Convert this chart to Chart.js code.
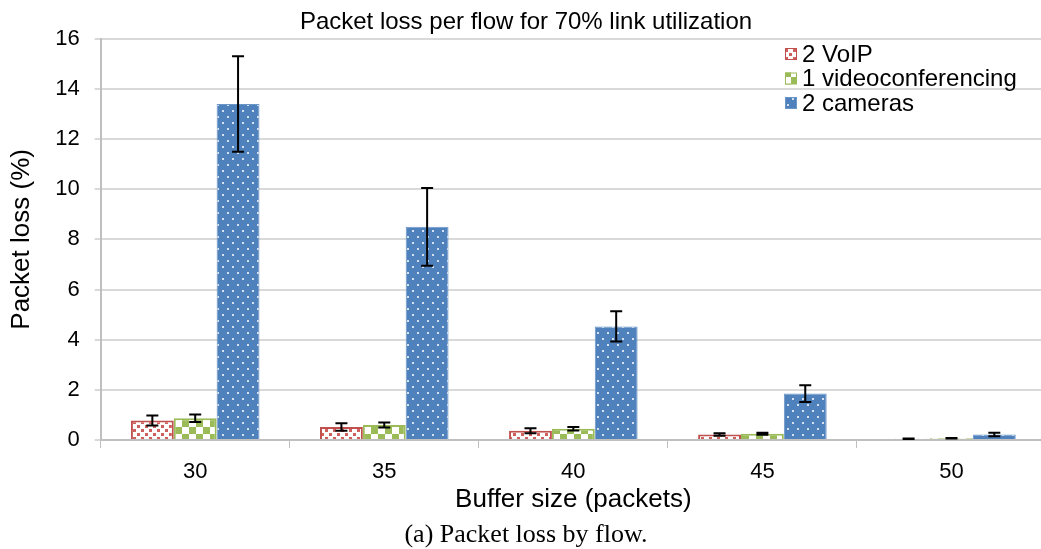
<!DOCTYPE html>
<html>
<head>
<meta charset="utf-8">
<script src="https://cdn.jsdelivr.net/npm/chart.js@4.4.0/dist/chart.umd.min.js"></script>
<style>
  html, body { margin: 0; padding: 0; background: #fff; overflow: hidden; }
  #wrap { width: 1041px; height: 549px; overflow: hidden; }
</style>
</head>
<body>
<div id="wrap"><canvas id="chart" width="1046" height="549"></canvas></div>
<script>
// data
const bufferSizes = ['30', '35', '40', '45', '50'];
const voip = [0.78, 0.52, 0.37, 0.22, 0.05];
const voipErr = [0.2, 0.15, 0.1, 0.05, 0.01];
const video = [0.87, 0.6, 0.45, 0.25, 0.07];
const videoErr = [0.15, 0.1, 0.07, 0.04, 0.01];
const cameras = [13.4, 8.5, 4.53, 1.85, 0.22];
const camerasErr = [1.9, 1.55, 0.6, 0.33, 0.07];

const RED = '#c0504d', GREEN = '#9bbb59', BLUE = '#4f81bd';
const SANS = 'Arial, "Liberation Sans", sans-serif';

// fill patterns like the office chart
function makePattern(kind) {
  const c = document.createElement('canvas');
  const ctx = c.getContext('2d');
  if (kind === 'dots') {
    c.width = 8; c.height = 8;
    ctx.fillStyle = '#fff'; ctx.fillRect(0, 0, 8, 8);
    ctx.fillStyle = '#d0605d';
    ctx.fillRect(1, 1, 3, 3);
    ctx.fillRect(5, 5, 3, 3);
  } else if (kind === 'check') {
    c.width = 14; c.height = 14;
    ctx.fillStyle = '#fff'; ctx.fillRect(0, 0, 14, 14);
    ctx.fillStyle = GREEN;
    ctx.fillRect(0, 0, 7, 7);
    ctx.fillRect(7, 7, 7, 7);
  } else {
    c.width = 10; c.height = 12;
    ctx.fillStyle = BLUE; ctx.fillRect(0, 0, 10, 12);
    ctx.fillStyle = '#d3e0f0';
    ctx.fillRect(2, 2, 2, 2);
    ctx.fillRect(7, 8, 2, 2);
  }
  return ctx.createPattern(c, 'repeat');
}

const errorBars = {
  id: 'errorBars',
  afterDatasetsDraw(chart) {
    const ctx = chart.ctx;
    const y = chart.scales.y;
    ctx.save();
    ctx.strokeStyle = '#000';
    ctx.lineWidth = 2;
    chart.data.datasets.forEach((ds, i) => {
      const meta = chart.getDatasetMeta(i);
      meta.data.forEach((bar, j) => {
        const v = ds.data[j], e = ds.errors[j];
        const top = y.getPixelForValue(v + e);
        const bot = y.getPixelForValue(v - e);
        ctx.beginPath();
        ctx.moveTo(bar.x, top); ctx.lineTo(bar.x, bot);
        ctx.moveTo(bar.x - 6, top); ctx.lineTo(bar.x + 6, top);
        ctx.moveTo(bar.x - 6, bot); ctx.lineTo(bar.x + 6, bot);
        ctx.stroke();
      });
    });
    ctx.restore();
  }
};

const innerLegend = {
  id: 'innerLegend',
  afterDraw(chart) {
    const ctx = chart.ctx;
    ctx.save();
    ctx.font = '24px ' + SANS;
    ctx.textBaseline = 'middle';
    chart.data.datasets.forEach((ds, i) => {
      const yy = 54 + i * 24.5;
      ctx.fillStyle = ds.backgroundColor;
      ctx.fillRect(785, yy - 6, 12, 12);
      ctx.strokeStyle = ds.borderColor;
      ctx.lineWidth = 1;
      ctx.strokeRect(785.5, yy - 5.5, 11, 11);
      ctx.fillStyle = '#000';
      ctx.fillText(ds.label, 802, yy + 1);
    });
    ctx.restore();
  }
};

const myChart = new Chart(document.getElementById('chart'), {
  type: 'bar',
  data: {
    labels: bufferSizes,
    datasets: [
      { label: '2 VoIP', data: voip, errors: voipErr,
        backgroundColor: makePattern('dots'), borderColor: RED, borderWidth: 2 },
      { label: '1 videoconferencing', data: video, errors: videoErr,
        backgroundColor: makePattern('check'), borderColor: GREEN, borderWidth: 2 },
      { label: '2 cameras', data: cameras, errors: camerasErr,
        backgroundColor: makePattern('blue'), borderColor: '#6a95c8', borderWidth: 1 }
    ]
  },
  options: {
    responsive: false,
    animation: false,
    layout: { padding: { left: 6, right: 0, top: 0, bottom: 0 } },
    datasets: { bar: { categoryPercentage: 0.68, barPercentage: 1.0 } },
    plugins: {
      legend: { display: false },
      tooltip: { enabled: false },
      title: {
        display: true,
        text: 'Packet loss per flow for 70% link utilization',
        color: '#000',
        font: { family: SANS, size: 24, weight: 'normal', lineHeight: 1.2 },
        padding: { top: 8, bottom: 2 }
      },
      subtitle: {
        display: true,
        position: 'bottom',
        text: '(a) Packet loss by flow.',
        color: '#000',
        font: { family: '"Times New Roman", "Liberation Serif", serif', size: 26, lineHeight: 1 },
        padding: { top: 8, bottom: 1 }
      }
    },
    scales: {
      x: {
        grid: { offset: true, drawOnChartArea: false, color: '#bfbfbf', tickLength: 8 },
        border: { color: '#bfbfbf', width: 2 },
        ticks: { color: '#000', font: { family: SANS, size: 22 }, padding: 11 },
        title: {
          display: true, text: 'Buffer size (packets)', color: '#000',
          font: { family: SANS, size: 26, lineHeight: 1.1 },
          padding: { top: -11, bottom: 0 }
        }
      },
      y: {
        min: 0, max: 16,
        grid: { color: '#d9d9d9', tickLength: 6, lineWidth: 2 },
        border: { color: '#bfbfbf', width: 2 },
        ticks: { stepSize: 2, color: '#000', font: { family: SANS, size: 22 }, padding: 15 },
        title: {
          display: true, text: 'Packet loss (%)', color: '#000',
          font: { family: SANS, size: 26 },
          padding: { top: 0, bottom: 3 }
        }
      }
    }
  },
  plugins: [errorBars, innerLegend]
});
</script>
</body>
</html>
